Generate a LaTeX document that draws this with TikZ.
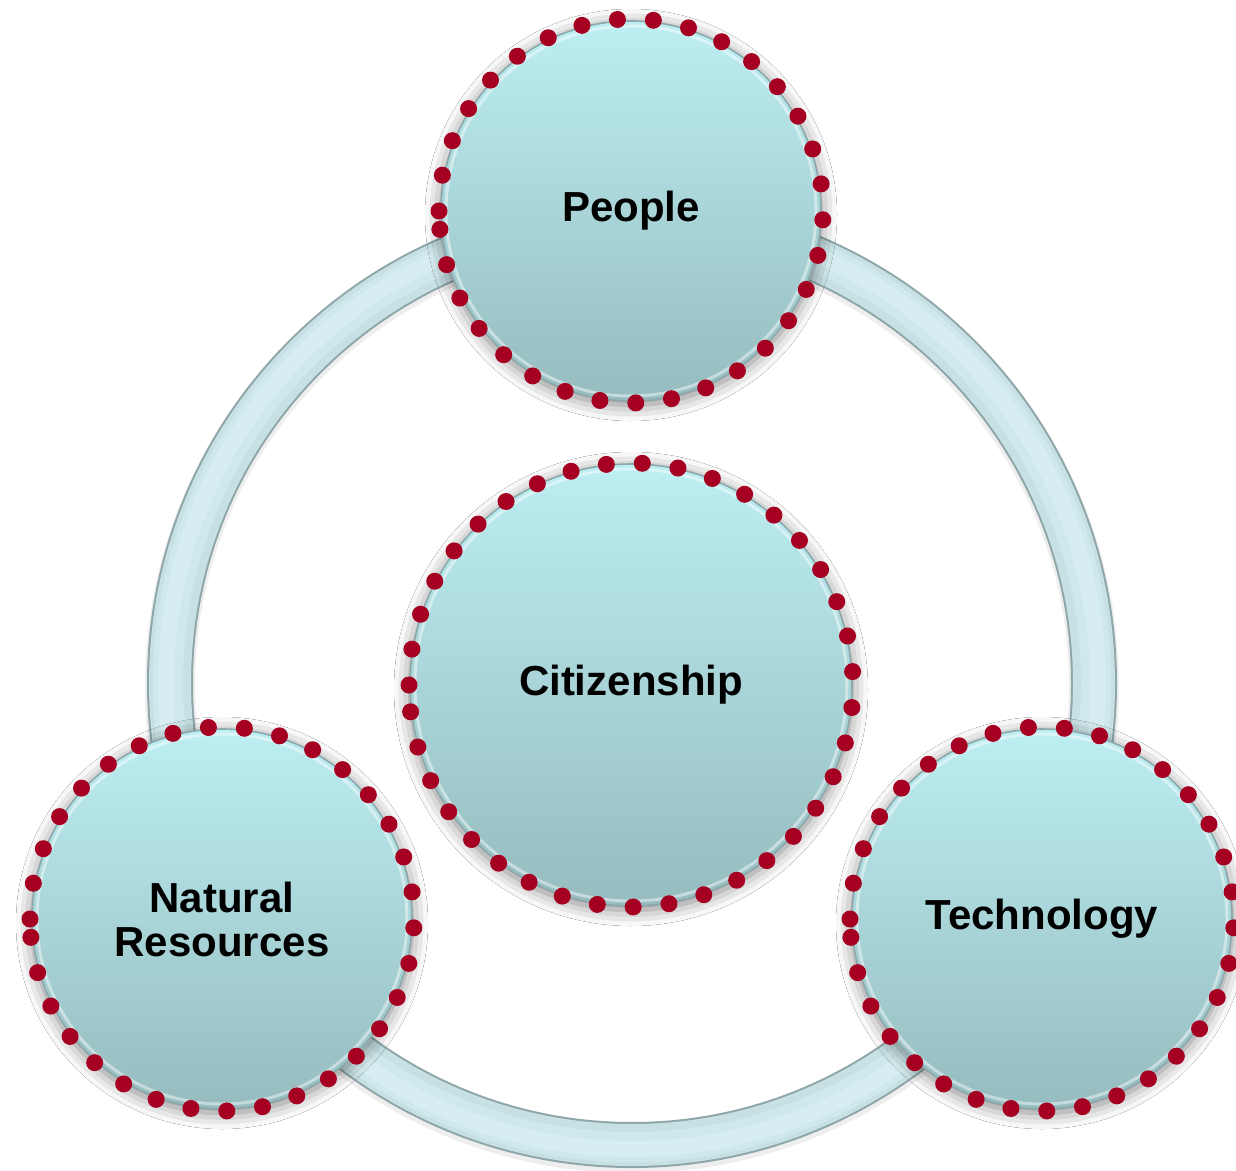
\documentclass[tikz,border=0pt]{standalone}
\usepackage{fontspec}
\setmainfont{Liberation Sans}
\usetikzlibrary{shadows.blur}
\definecolor{dotred}{HTML}{A50021}
\definecolor{bubtop}{HTML}{BCEEF2}
\definecolor{bubbot}{HTML}{96BCBF}
\definecolor{bubedge}{HTML}{8DA8AB}
\definecolor{ringedge}{HTML}{8FA6A9}
\definecolor{ringfill}{HTML}{C6E0E3}
\definecolor{ringlight}{HTML}{D6EEF1}
\tikzset{
  bubble/.style={circle, inner sep=0pt, top color=bubtop, bottom color=bubbot,
    draw=bubedge, line width=0.8pt, align=center,
    font=\bfseries\fontsize{21}{22}\selectfont,
    blur shadow={shadow xshift=0pt, shadow yshift=-2pt, shadow blur radius=8pt, shadow opacity=50, shadow scale=1.0}},
  rimlight/.style={draw=white, opacity=0.45, line width=1.5pt},
  dotfill/.style={fill=dotred},
  ringedgestyle/.style={draw=ringedge, line width=23pt},
  ringbody/.style={draw=ringfill, line width=21pt},
  ringhi/.style={draw=ringlight, line width=#1},
}
\newcommand{\mydotring}[3]{%
  \foreach \i in {0,...,#3} {
    \fill[dotfill] (#1.center) ++({180+\i*36/#2*57.29578}:#2) circle[radius=8.5];
  }%
}
\begin{document}
\begin{tikzpicture}[x=0.5pt,y=-0.5pt]
\useasboundingbox[fill=white] (0,0) rectangle (1236,1171);
% ring
\coordinate (rc) at (632,683);
\draw[draw=black!25, line width=25pt, draw opacity=0.25] ([yshift=-1.5pt]rc) circle[radius=462];
\draw[ringedgestyle] (rc) circle[radius=462];
\draw[ringbody] (rc) circle[radius=462];
\draw[ringhi=15pt, draw opacity=0.6] (rc) circle[radius=464];
\draw[ringhi=8pt] (rc) circle[radius=466];
% bubbles
\node[bubble, minimum size=190pt] (P) at (631,211) {People};
\node[bubble, minimum size=221pt] (C) at (631,685) {Citizenship};
\node[bubble, minimum size=190pt] (N) at (222,919) {Natural\\Resources};
\node[bubble, minimum size=190pt] (T) at (1042,919) {Technology};
% inner rim highlights
\foreach \n/\r in {P/185, N/185, T/185} {
  \draw[rimlight] (\n.center) circle[radius=\r];
}
\draw[rimlight] (C.center) circle[radius=216];
% dots
\mydotring{P}{192}{33}
\mydotring{C}{222}{38}
\mydotring{N}{192}{33}
\mydotring{T}{192}{33}
\end{tikzpicture}
\end{document}
